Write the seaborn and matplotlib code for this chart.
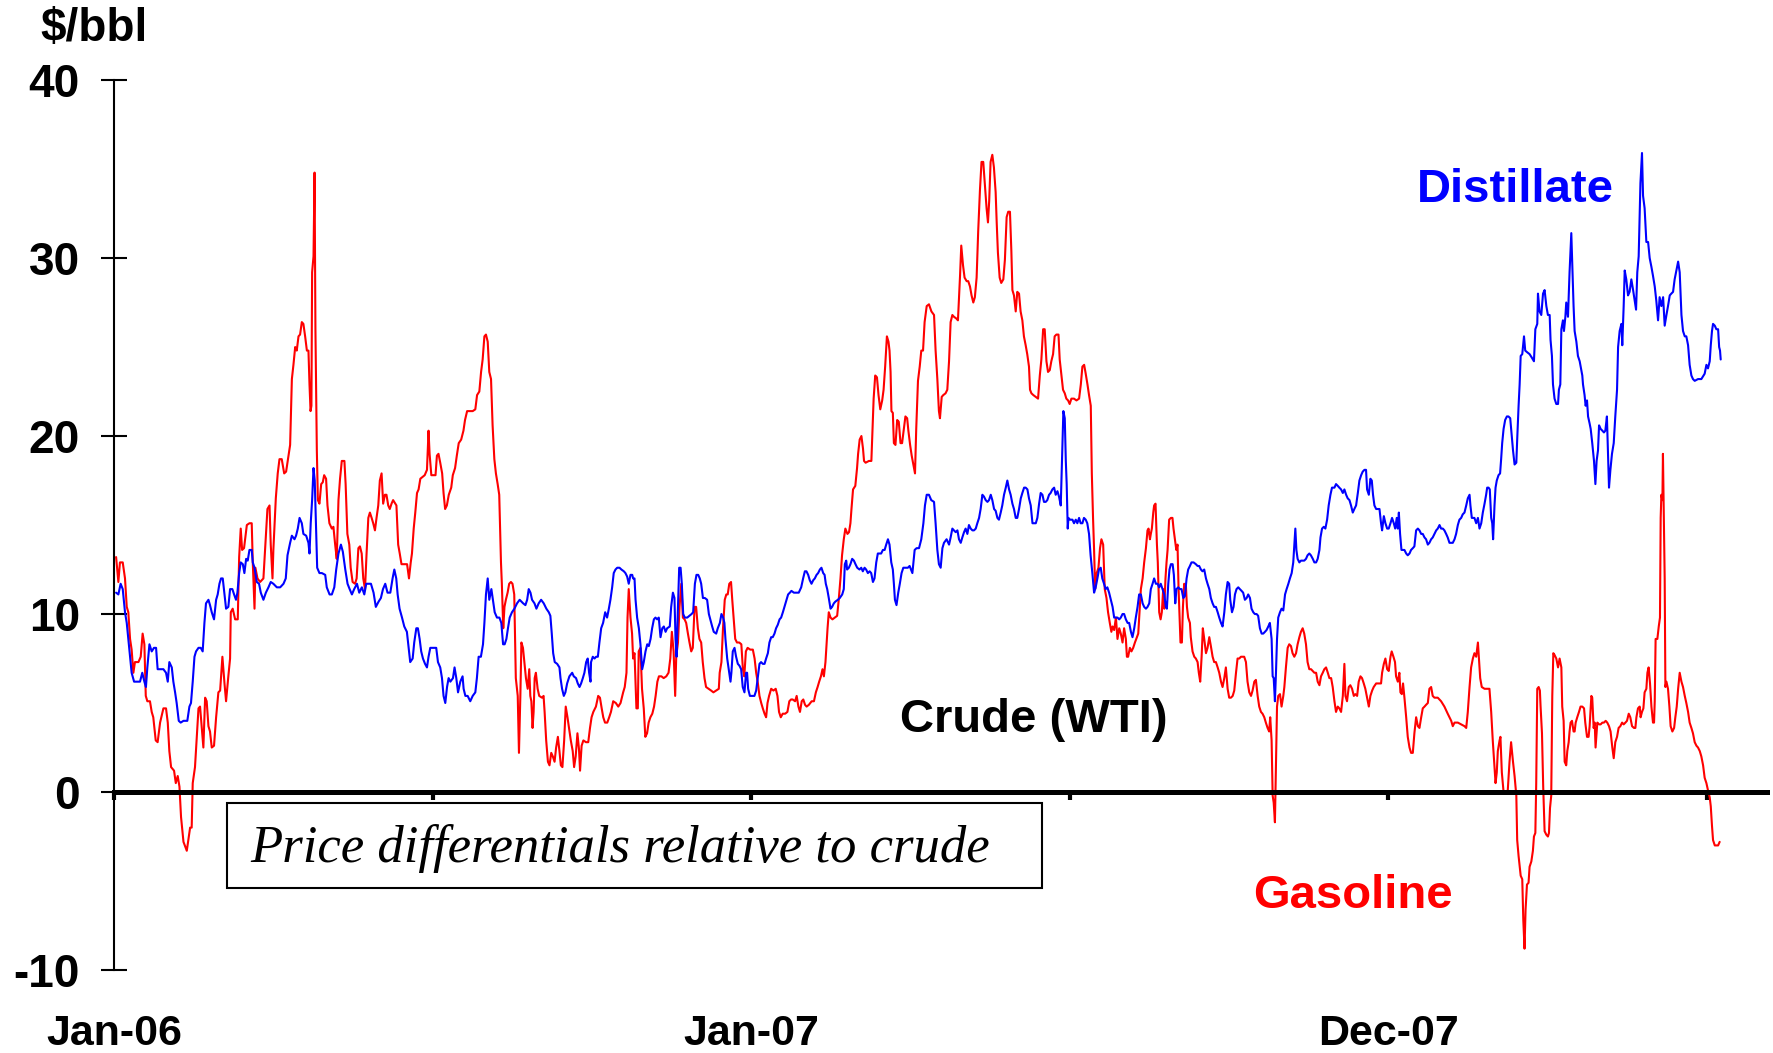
import matplotlib
matplotlib.use("Agg")
import matplotlib.pyplot as plt
import pandas as pd
import seaborn as sns
from matplotlib.patches import Rectangle

# spread over WTI crude, $/bbl; x = days since 1 Jan 2006
GASOLINE = [
    (1.2, 13.2), (2.5, 11.8), (3.4, 12.9), (5.0, 12.9), (6.3, 12.0), (7.3, 10.4), (8.2, 10.1), (9.2, 8.6),
    (10.1, 8.0), (11.1, 6.7), (12.0, 7.3), (14.0, 7.3), (15.3, 7.6), (16.4, 8.9), (17.4, 8.3), (18.2, 5.4),
    (19.1, 5.1), (20.6, 5.1), (21.6, 4.5), (22.5, 4.2), (23.9, 2.9), (25.0, 2.8), (26.4, 3.9), (28.3, 4.7),
    (29.8, 4.7), (30.8, 3.9), (31.7, 2.3), (32.7, 1.4), (34.4, 1.2), (35.4, 0.5), (36.5, 0.9), (37.5, 0.3),
    (38.4, -1.4), (39.8, -2.8), (41.7, -3.3), (43.6, -2.0), (44.5, -2.0), (45.1, 0.5), (46.4, 1.4), (47.4, 3.1),
    (48.4, 4.7), (49.3, 4.8), (50.3, 3.6), (51.2, 2.5), (52.2, 5.3), (53.1, 5.1), (54.1, 3.7), (55.0, 3.4),
    (56.0, 2.5), (57.3, 2.6), (58.5, 4.2), (59.8, 5.6), (60.8, 5.7), (62.1, 7.6), (63.3, 6.1), (64.2, 5.1),
    (65.5, 6.5), (66.5, 7.5), (66.9, 10.1), (68.0, 10.3), (69.4, 9.7), (70.9, 9.7), (71.7, 13.2), (72.6, 14.8),
    (73.4, 13.6), (74.5, 13.7), (76.1, 15.0), (77.6, 15.1), (78.9, 15.1), (79.5, 12.9), (80.5, 10.3), (81.0, 12.6),
    (82.2, 12.0), (83.7, 11.8), (85.6, 12.0), (86.8, 14.0), (87.9, 15.9), (89.1, 16.1), (89.8, 13.9), (90.8, 12.0),
    (91.3, 13.6), (92.7, 16.5), (93.8, 17.9), (94.8, 18.7), (96.1, 18.7), (97.5, 17.9), (98.6, 18.0), (100.0, 18.9),
    (100.9, 19.5), (101.9, 23.2), (102.8, 24.0), (103.8, 25.0), (104.7, 24.8), (105.7, 25.6), (106.6, 25.7),
    (107.6, 26.4), (108.5, 26.3), (109.5, 25.6), (110.5, 24.8), (111.4, 24.8), (112.0, 22.9), (112.6, 21.4),
    (113.1, 21.7), (113.5, 29.2), (114.3, 30.1), (114.9, 34.8), (115.4, 26.0), (116.2, 19.2), (116.8, 16.4),
    (117.7, 16.2), (118.7, 17.3), (119.6, 17.4), (120.4, 17.8), (121.5, 17.6), (122.3, 16.1), (123.4, 15.1),
    (124.8, 14.8), (125.7, 14.9), (126.7, 13.9), (127.6, 13.1), (128.6, 16.4), (129.5, 17.6), (130.5, 18.6),
    (132.0, 18.6), (132.7, 17.3), (133.7, 14.5), (134.8, 13.9), (135.6, 12.6), (136.7, 11.8), (138.1, 11.7),
    (139.0, 12.0), (140.0, 13.7), (140.9, 13.8), (141.9, 13.4), (142.8, 12.0), (143.8, 11.4), (144.7, 13.4),
    (145.7, 15.4), (146.6, 15.7), (147.6, 15.4), (148.5, 15.1), (149.5, 14.7), (150.4, 15.4), (151.4, 16.1),
    (152.3, 17.5), (153.3, 17.9), (154.2, 16.2), (155.2, 16.7), (156.1, 16.7), (157.1, 16.1), (158.0, 15.9),
    (159.0, 16.2), (159.9, 16.4), (161.8, 16.1), (162.8, 13.9), (163.7, 13.4), (164.7, 12.8), (166.6, 12.8),
    (167.9, 12.8), (169.0, 12.0), (170.0, 12.9), (170.7, 13.4), (171.7, 14.8), (172.6, 15.7), (173.6, 16.8),
    (174.5, 17.0), (175.5, 17.6), (178.0, 17.8), (179.3, 18.1), (180.2, 20.3), (180.8, 19.0), (181.8, 17.8),
    (183.1, 17.8), (184.2, 17.8), (185.0, 18.9), (185.9, 19.0), (186.9, 18.5), (188.0, 17.9), (188.8, 16.8),
    (189.7, 15.9), (190.7, 16.1), (191.8, 16.7), (193.2, 17.1), (194.1, 17.8), (195.4, 18.2), (196.4, 18.9),
    (197.5, 19.6), (198.9, 19.8), (200.2, 20.3), (201.1, 20.9), (202.3, 21.4), (203.6, 21.4), (205.5, 21.4),
    (207.0, 21.5), (208.0, 22.3), (209.3, 22.5), (210.3, 23.6), (211.2, 24.3), (212.2, 25.6), (213.1, 25.7),
    (214.1, 25.3), (215.0, 23.6), (216.0, 23.2), (216.9, 20.6), (217.9, 18.7), (218.8, 17.9), (219.8, 17.3),
    (220.7, 16.7), (221.7, 12.9), (222.2, 11.7), (223.0, 9.2), (223.7, 10.4), (224.5, 10.8), (225.5, 11.2),
    (226.4, 11.7), (227.4, 11.8), (228.3, 11.7), (229.3, 11.1), (230.2, 6.4), (231.3, 5.4), (232.0, 2.2),
    (232.8, 5.4), (233.4, 8.4), (234.3, 8.1), (235.1, 7.3), (236.0, 6.4), (237.0, 5.8), (237.9, 6.9), (238.5, 5.4),
    (239.1, 5.1), (239.8, 3.6), (240.4, 4.5), (241.0, 6.4), (241.7, 6.7), (242.7, 5.8), (243.6, 5.4), (245.2, 5.3),
    (246.1, 5.4), (246.7, 4.5), (247.6, 2.9), (248.6, 1.7), (249.5, 1.5), (250.5, 2.2), (251.4, 2.0), (252.4, 1.7),
    (253.3, 2.5), (254.3, 3.1), (255.2, 2.3), (256.0, 1.5), (256.9, 1.4), (257.9, 2.9), (258.8, 4.8), (259.8, 4.2),
    (260.7, 3.6), (261.7, 2.9), (262.8, 2.3), (263.6, 1.4), (264.5, 2.0), (265.5, 3.3), (266.4, 2.4), (267.0, 1.2),
    (267.9, 2.6), (268.9, 2.9), (270.4, 2.8), (271.7, 2.8), (272.7, 3.6), (273.6, 4.2), (274.6, 4.5), (276.1, 4.8),
    (277.4, 5.4), (278.4, 5.3), (279.4, 4.7), (280.3, 4.2), (281.3, 3.9), (282.6, 3.9), (283.7, 4.2), (284.7, 4.5),
    (286.0, 5.1), (287.5, 5.0), (288.9, 4.8), (290.2, 5.0), (291.7, 5.6), (292.6, 5.9), (293.6, 6.7), (294.2, 9.8),
    (294.9, 11.4), (295.9, 9.8), (296.8, 8.9), (297.4, 7.5), (298.2, 7.8), (298.7, 6.4), (299.3, 4.7), (300.1, 4.7),
    (300.6, 7.9), (301.6, 8.1), (302.5, 5.8), (303.5, 4.7), (304.4, 3.1), (305.4, 3.3), (306.3, 3.9), (307.3, 4.2),
    (308.4, 4.4), (309.4, 4.8), (310.3, 5.4), (311.3, 6.2), (312.2, 6.5), (313.6, 6.5), (314.9, 6.4), (316.4, 6.5),
    (317.7, 6.7), (318.7, 7.5), (319.6, 9.0), (320.6, 7.9), (321.5, 5.4), (322.1, 7.6), (323.1, 8.4), (324.0, 10.4),
    (325.0, 11.7), (325.9, 9.8), (326.9, 9.7), (327.8, 9.5), (328.8, 8.9), (329.7, 8.4), (330.7, 7.9), (331.6, 8.1),
    (332.6, 10.4), (333.5, 10.4), (334.5, 9.2), (335.4, 8.6), (336.4, 8.4), (337.3, 7.3), (338.3, 6.4), (339.2, 5.9),
    (340.7, 5.8), (342.1, 5.7), (343.4, 5.6), (344.9, 5.7), (346.5, 5.8), (347.0, 6.7), (348.0, 7.3), (348.9, 9.2),
    (349.9, 10.8), (350.8, 11.1), (351.6, 11.1), (352.5, 11.7), (353.5, 11.8), (354.2, 10.8), (355.0, 9.8),
    (355.9, 8.6), (356.9, 8.4), (358.2, 8.4), (359.4, 8.3), (360.3, 6.9), (361.1, 6.5), (362.0, 7.9), (363.0, 8.1),
    (364.5, 8.0), (366.0, 8.0), (367.0, 7.5), (367.9, 6.7), (368.9, 6.1), (369.8, 5.4), (370.8, 5.0), (371.7, 4.7),
    (372.7, 4.4), (373.6, 4.2), (374.4, 5.0), (375.3, 5.4), (376.5, 5.8), (377.8, 5.7), (379.1, 5.8), (380.1, 5.4),
    (381.0, 4.5), (382.0, 4.2), (383.1, 4.4), (384.5, 4.4), (385.8, 4.5), (386.9, 5.1), (387.9, 5.2), (388.8, 5.2),
    (390.2, 5.1), (391.1, 5.4), (392.1, 4.8), (393.0, 4.5), (394.0, 5.1), (394.9, 5.2), (395.9, 4.9), (396.8, 4.8),
    (398.1, 4.9), (399.7, 5.1), (401.0, 5.1), (402.1, 5.6), (403.1, 5.9), (404.0, 6.2), (405.0, 6.5), (405.9, 6.9),
    (406.7, 6.5), (407.6, 7.3), (408.2, 8.3), (408.8, 9.2), (409.5, 10.1), (410.5, 9.8), (411.6, 9.7), (412.9, 9.8),
    (414.3, 9.9), (415.2, 10.8), (416.2, 12.0), (417.1, 13.3), (418.1, 14.2), (419.0, 14.8), (420.2, 14.5),
    (421.1, 14.6), (421.9, 15.1), (422.5, 15.9), (423.4, 17.0), (424.7, 17.2), (425.7, 18.2), (426.3, 19.0),
    (427.2, 19.8), (428.2, 20.0), (429.1, 19.3), (429.7, 18.6), (430.6, 18.5), (432.5, 18.6), (433.9, 18.6),
    (434.4, 20.0), (435.2, 22.1), (436.1, 23.4), (437.1, 23.3), (438.0, 22.3), (439.0, 21.5), (440.1, 22.0),
    (440.9, 22.6), (441.8, 23.9), (442.8, 25.6), (443.7, 25.3), (444.3, 24.8), (444.9, 23.6), (445.4, 21.4),
    (446.2, 21.3), (446.8, 19.6), (447.7, 19.5), (448.7, 20.9), (449.6, 20.8), (450.6, 19.6), (451.5, 19.6),
    (452.5, 20.4), (453.4, 21.1), (454.4, 21.0), (455.1, 20.3), (456.1, 19.5), (457.0, 18.9), (458.9, 17.9),
    (459.6, 20.4), (460.6, 23.1), (461.6, 23.9), (462.5, 24.8), (463.5, 24.8), (464.4, 26.4), (465.6, 27.3),
    (466.9, 27.4), (468.3, 27.0), (469.8, 26.8), (470.7, 24.8), (471.7, 23.2), (472.6, 21.4), (473.2, 21.0),
    (474.2, 22.2), (475.1, 22.3), (476.4, 22.4), (477.4, 22.6), (478.4, 24.2), (479.3, 26.4), (480.3, 26.8),
    (481.2, 26.7), (482.6, 26.6), (483.5, 26.5), (484.7, 29.0), (485.4, 30.7), (486.4, 29.6), (487.3, 28.9),
    (488.5, 28.7), (489.4, 28.7), (490.4, 28.4), (491.3, 27.9), (492.3, 27.5), (493.2, 27.8), (494.2, 28.9),
    (495.1, 31.5), (496.1, 33.8), (497.0, 35.4), (498.0, 35.4), (498.8, 34.3), (499.3, 33.7), (499.9, 32.8),
    (500.7, 32.0), (501.4, 33.2), (502.2, 35.4), (503.2, 35.8), (504.1, 35.1), (505.1, 33.7), (505.7, 32.0),
    (506.4, 30.3), (507.4, 28.9), (508.3, 28.6), (509.5, 28.8), (510.4, 29.9), (511.4, 32.3), (512.3, 32.6),
    (513.3, 32.6), (514.1, 30.4), (514.7, 28.2), (515.6, 27.9), (516.6, 27.0), (517.5, 28.1), (518.5, 28.0),
    (519.4, 27.0), (520.4, 26.5), (521.3, 25.6), (522.3, 25.1), (523.2, 24.6), (524.2, 23.9), (524.8, 22.6),
    (525.6, 22.4), (526.7, 22.3), (528.1, 22.2), (529.4, 22.1), (530.4, 23.4), (531.3, 24.3), (532.3, 26.0),
    (533.2, 26.0), (534.2, 24.2), (535.1, 23.6), (536.1, 23.7), (537.0, 24.2), (538.0, 24.6), (538.9, 25.6),
    (539.9, 25.7), (541.1, 25.7), (541.8, 24.3), (542.8, 23.4), (543.7, 22.6), (544.7, 22.4), (545.6, 22.1),
    (546.6, 22.0), (547.5, 21.8), (548.5, 22.1), (550.0, 22.1), (551.4, 22.0), (552.9, 22.1), (553.9, 22.9),
    (554.8, 23.9), (555.8, 24.0), (556.7, 23.5), (557.7, 22.9), (558.6, 22.3), (559.6, 21.7), (560.2, 17.9),
    (560.9, 15.4), (561.5, 13.6), (562.1, 11.4), (563.0, 12.3), (564.0, 12.6), (564.9, 13.7), (565.7, 14.2),
    (566.7, 13.9), (567.6, 11.4), (568.6, 10.9), (569.5, 10.1), (570.5, 9.5), (571.4, 9.0), (572.1, 9.3),
    (573.0, 9.1), (574.0, 9.8), (574.9, 8.6), (575.9, 9.2), (576.8, 8.9), (577.8, 8.4), (578.7, 9.2), (579.7, 8.6),
    (580.3, 7.6), (581.0, 7.6), (582.0, 8.1), (582.9, 7.9), (583.9, 8.1), (584.9, 8.4), (586.0, 8.7), (586.8, 8.9),
    (587.5, 10.1), (588.3, 11.4), (589.3, 12.0), (590.2, 12.9), (591.2, 13.7), (592.1, 14.7), (592.7, 14.8),
    (593.5, 14.2), (594.0, 14.5), (594.6, 14.8), (595.4, 15.7), (595.9, 16.1), (596.7, 16.2), (597.5, 13.9),
    (598.0, 12.9), (598.8, 10.1), (599.6, 9.7), (600.3, 10.1), (601.1, 11.4), (601.7, 10.3), (602.4, 12.0),
    (603.0, 12.9), (603.6, 13.6), (604.5, 15.3), (605.5, 15.4), (606.4, 15.4), (607.0, 14.8), (607.8, 14.2),
    (608.6, 13.6), (609.3, 13.9), (609.9, 11.4), (610.5, 9.8), (611.0, 8.4), (611.8, 8.4), (612.4, 10.4),
    (613.1, 11.7), (614.1, 11.6), (614.7, 10.4), (615.4, 9.8), (616.4, 9.5), (616.9, 8.7), (617.9, 7.9),
    (618.9, 7.6), (619.8, 7.5), (620.8, 7.3), (621.5, 6.7), (622.3, 6.2), (623.1, 7.6), (623.8, 9.2), (624.6, 8.6),
    (625.6, 7.8), (626.5, 8.1), (627.5, 8.7), (628.4, 8.2), (629.4, 7.6), (630.3, 7.3), (631.3, 7.3), (632.3, 7.0),
    (633.2, 6.7), (634.2, 6.2), (635.1, 5.9), (636.1, 6.4), (637.0, 7.0), (638.0, 5.8), (638.9, 5.3), (639.9, 5.3),
    (640.9, 5.4), (641.8, 5.7), (642.8, 6.7), (643.7, 7.5), (644.7, 7.5), (645.6, 7.6), (646.6, 7.6), (647.5, 7.6),
    (648.5, 7.3), (649.4, 6.2), (650.4, 5.6), (651.4, 5.4), (652.3, 5.7), (653.3, 6.2), (654.2, 6.3), (655.2, 5.4),
    (656.1, 4.8), (657.1, 4.5), (658.0, 4.4), (659.0, 4.2), (659.9, 3.9), (660.9, 3.6), (661.8, 3.4), (662.4, 4.2),
    (663.2, 2.9), (663.8, -0.2), (664.4, -0.6), (665.1, -1.7), (665.7, 1.4), (666.3, 4.8), (667.0, 5.4),
    (668.0, 5.5), (668.9, 4.8), (669.9, 5.4), (670.5, 5.9), (671.4, 7.0), (672.4, 8.1), (673.3, 8.3), (674.3, 8.2),
    (675.2, 7.8), (676.2, 7.6), (677.2, 7.8), (678.1, 8.3), (679.1, 8.7), (680.0, 9.0), (681.0, 9.2), (681.9, 8.9),
    (682.9, 8.3), (683.8, 7.3), (684.8, 6.9), (685.8, 6.9), (687.7, 6.7), (688.7, 6.7), (689.6, 6.2), (690.6, 6.0),
    (691.5, 6.5), (692.5, 6.7), (693.4, 6.9), (694.4, 7.0), (695.4, 6.7), (696.3, 6.4), (697.3, 6.4), (698.2, 5.9),
    (699.2, 5.1), (700.1, 4.5), (701.1, 4.8), (702.0, 4.7), (703.0, 4.5), (704.0, 5.4), (704.9, 7.2), (705.5, 5.4),
    (706.4, 5.1), (707.4, 5.9), (708.3, 6.0), (709.3, 5.8), (710.3, 5.4), (711.2, 5.5), (712.2, 5.4), (713.1, 6.2),
    (714.1, 6.5), (715.0, 6.4), (716.0, 6.1), (716.9, 5.8), (717.9, 5.3), (718.9, 4.8), (719.8, 5.4), (720.8, 5.7),
    (721.7, 5.9), (723.1, 6.1), (724.6, 6.1), (725.9, 6.1), (726.5, 6.7), (727.5, 7.2), (728.4, 7.5), (729.4, 6.9),
    (730.3, 6.8), (731.3, 7.6), (732.0, 7.9), (733.0, 7.6), (733.9, 7.3), (734.5, 6.5), (735.5, 6.2), (736.4, 6.7),
    (737.0, 5.6), (737.8, 5.5), (738.5, 6.1), (739.3, 5.3), (740.3, 4.2), (741.2, 3.1), (742.2, 2.5), (743.1, 2.2),
    (744.1, 2.2), (745.0, 3.3), (746.0, 4.2), (747.0, 3.7), (747.9, 3.6), (748.9, 4.2), (749.8, 4.7), (750.8, 4.8),
    (751.7, 4.9), (752.7, 5.0), (753.6, 5.8), (754.6, 5.9), (755.5, 5.4), (756.5, 5.3), (758.4, 5.3), (760.3, 5.1),
    (762.2, 4.8), (764.1, 4.4), (766.1, 4.0), (767.0, 3.7), (768.0, 3.9), (769.9, 3.9), (771.8, 3.8), (773.7, 3.7),
    (774.7, 3.6), (775.6, 4.5), (776.6, 5.9), (777.5, 7.0), (778.5, 7.5), (779.4, 7.8), (780.4, 7.6), (781.4, 8.4),
    (781.9, 7.6), (782.7, 6.4), (783.6, 5.9), (785.2, 5.8), (786.7, 5.8), (788.0, 5.8), (789.0, 4.5), (789.9, 2.9),
    (790.9, 1.4), (791.5, 0.5), (792.2, 1.1), (792.8, 2.3), (793.8, 2.9), (794.3, 3.1), (795.1, 1.1), (796.1, 0.0),
    (797.6, 0.0), (798.5, 0.1), (799.5, 1.7), (800.4, 2.8), (801.5, 1.7), (802.4, 0.9), (803.4, -0.2),
    (803.9, -2.7), (804.7, -3.6), (805.9, -4.7), (806.8, -4.9), (807.4, -7.2), (808.1, -8.8), (808.7, -6.6),
    (809.5, -5.2), (810.4, -5.1), (811.0, -4.2), (812.0, -3.9), (812.9, -3.3), (813.5, -2.5), (814.3, -2.3),
    (814.8, 0.5), (815.4, 5.8), (816.2, 5.9), (816.9, 5.7), (817.3, 4.8), (818.1, 3.3), (818.8, 0.3), (819.6, -2.2),
    (820.6, -2.4), (821.5, -2.5), (822.1, -2.3), (822.7, -0.9), (823.4, -0.2), (824.0, 5.4), (824.6, 7.8),
    (825.3, 7.7), (826.3, 7.5), (827.3, 7.0), (828.2, 7.5), (829.2, 7.0), (829.7, 4.8), (830.5, 4.0), (831.1, 1.7),
    (832.0, 1.5), (832.6, 2.3), (833.4, 2.8), (833.9, 3.4), (834.5, 3.9), (835.3, 4.0), (836.2, 3.4), (836.8, 3.4),
    (837.4, 3.9), (838.3, 4.2), (839.3, 4.5), (840.2, 4.8), (841.2, 4.8), (842.2, 4.7), (842.9, 3.9), (843.9, 3.1),
    (844.8, 3.1), (845.4, 3.7), (846.4, 5.4), (846.9, 5.3), (847.7, 3.6), (848.3, 3.9), (848.8, 2.5), (849.8, 3.9),
    (850.8, 3.8), (851.7, 3.8), (852.7, 3.9), (853.6, 3.9), (854.6, 4.0), (855.5, 3.9), (856.5, 3.7), (857.4, 3.4),
    (858.4, 2.5), (859.2, 1.9), (860.1, 2.8), (861.1, 3.1), (862.0, 3.6), (863.0, 3.7), (864.0, 3.9), (864.9, 3.8),
    (865.9, 3.9), (866.8, 4.0), (867.8, 4.4), (868.7, 4.2), (869.7, 3.7), (870.8, 3.6), (871.6, 3.6), (872.2, 4.2),
    (873.1, 4.7), (874.1, 4.8), (874.6, 4.2), (875.4, 4.5), (876.2, 4.7), (876.9, 5.6), (877.9, 5.8), (878.5, 6.7),
    (879.2, 7.0), (880.0, 6.1), (880.8, 4.8), (881.7, 3.9), (882.3, 3.9), (882.7, 5.1), (883.2, 8.6), (884.2, 8.6),
    (885.0, 9.3), (885.7, 9.8), (886.1, 15.4), (886.5, 16.7), (887.1, 16.4), (887.4, 19.0), (888.0, 14.8),
    (888.4, 12.0), (888.8, 5.9), (889.4, 6.2), (890.3, 5.8), (891.1, 4.8), (891.8, 3.7), (892.8, 3.4), (893.8, 3.6),
    (894.5, 4.2), (895.3, 4.8), (896.1, 5.8), (897.0, 6.7), (898.0, 6.2), (898.9, 5.9), (899.9, 5.4), (900.8, 5.0),
    (901.8, 4.5), (902.7, 3.9), (903.7, 3.6), (904.6, 3.3), (905.6, 2.8), (906.6, 2.6), (907.5, 2.5), (908.5, 2.3),
    (909.4, 2.0), (910.4, 1.5), (911.3, 0.8), (912.3, 0.5), (913.2, 0.1), (914.2, -0.3), (914.8, -0.8),
    (915.5, -1.9), (916.1, -2.7), (917.1, -3.0), (918.0, -3.0), (919.0, -3.0), (919.9, -2.8),
]

DISTILLATE = [
    (1.2, 11.2), (2.5, 11.1), (3.8, 11.7), (5.0, 11.4), (6.3, 10.1), (7.3, 9.5), (8.2, 8.6), (9.2, 7.6),
    (10.1, 6.7), (11.5, 6.2), (13.0, 6.2), (14.9, 6.2), (16.2, 6.7), (17.4, 6.2), (18.3, 5.9), (19.1, 7.0),
    (20.3, 8.3), (21.6, 7.9), (22.9, 8.1), (24.1, 8.1), (25.0, 6.9), (26.4, 6.9), (28.3, 6.9), (29.8, 6.7),
    (30.8, 6.2), (31.7, 7.3), (33.1, 7.0), (34.0, 6.2), (35.0, 5.6), (35.9, 5.0), (37.1, 4.0), (38.2, 3.9),
    (39.8, 4.0), (42.0, 4.0), (43.2, 4.8), (44.1, 5.0), (45.1, 6.2), (46.1, 7.6), (47.0, 7.9), (48.4, 8.1),
    (49.7, 8.1), (50.8, 7.9), (51.8, 9.5), (52.7, 10.6), (54.1, 10.8), (55.0, 10.5), (56.0, 10.1), (57.3, 9.7),
    (58.5, 10.8), (59.4, 11.1), (60.4, 11.7), (61.3, 12.0), (62.3, 12.0), (63.3, 11.1), (64.2, 10.3), (65.5, 10.4),
    (66.5, 11.4), (67.8, 11.4), (68.8, 11.1), (69.9, 10.8), (70.7, 11.2), (71.7, 12.3), (72.6, 12.9), (73.8, 12.8),
    (74.7, 12.3), (75.7, 13.1), (76.6, 13.0), (77.6, 13.6), (78.9, 13.6), (79.5, 12.9), (80.5, 12.6), (81.8, 11.8),
    (83.1, 11.7), (84.1, 11.2), (85.6, 10.8), (87.0, 11.2), (88.5, 11.5), (89.8, 11.8), (91.3, 11.7), (93.3, 11.5),
    (95.2, 11.5), (97.1, 11.7), (98.4, 12.0), (99.4, 13.3), (100.9, 14.0), (101.9, 14.4), (103.4, 14.2),
    (104.3, 14.4), (105.3, 14.8), (106.3, 15.4), (107.6, 15.1), (108.5, 14.5), (110.1, 14.4), (111.4, 14.0),
    (112.0, 13.4), (112.7, 15.1), (113.5, 16.4), (114.3, 18.2), (115.0, 17.5), (115.8, 14.8), (116.4, 12.6),
    (117.7, 12.3), (119.1, 12.3), (121.0, 12.2), (121.9, 11.5), (123.5, 11.1), (124.8, 11.1), (126.2, 11.5),
    (127.3, 12.5), (128.6, 13.4), (130.0, 13.9), (131.1, 13.5), (132.5, 12.5), (133.8, 11.7), (135.0, 11.4),
    (136.3, 11.1), (137.6, 11.4), (139.2, 11.7), (140.5, 11.2), (142.0, 11.5), (143.4, 11.1), (144.5, 11.7),
    (145.8, 11.7), (147.2, 11.7), (148.7, 11.2), (150.0, 10.4), (151.6, 10.7), (152.9, 10.9), (154.1, 11.4),
    (155.4, 11.7), (156.7, 11.2), (158.3, 11.2), (159.6, 12.0), (160.6, 12.5), (161.7, 12.0), (162.5, 11.1),
    (163.6, 10.3), (165.0, 9.8), (166.3, 9.3), (167.8, 9.0), (168.8, 8.1), (169.7, 7.3), (171.1, 7.5), (172.0, 8.4),
    (173.2, 9.2), (174.1, 9.2), (175.1, 8.6), (176.0, 7.9), (177.0, 7.5), (178.2, 7.2), (179.3, 7.0), (180.2, 7.6),
    (181.2, 8.1), (183.1, 8.1), (184.6, 8.1), (185.6, 7.3), (186.9, 7.0), (187.9, 6.4), (188.8, 5.4), (189.8, 5.0),
    (190.8, 5.9), (191.7, 6.4), (192.7, 6.2), (194.2, 6.4), (195.1, 7.0), (196.1, 6.4), (197.1, 5.6), (198.4, 6.2),
    (199.7, 6.5), (200.3, 5.8), (201.3, 5.4), (202.6, 5.4), (204.1, 5.1), (205.5, 5.4), (207.0, 5.6), (207.9, 6.4),
    (208.9, 7.6), (210.2, 7.6), (211.4, 8.3), (212.2, 9.5), (213.1, 11.1), (214.1, 12.0), (215.0, 10.8),
    (216.2, 11.4), (217.1, 10.8), (218.1, 10.1), (219.4, 9.8), (220.8, 9.8), (221.9, 9.5), (222.9, 8.3),
    (223.8, 8.3), (224.8, 8.6), (225.7, 9.2), (226.7, 9.8), (228.0, 10.1), (229.4, 10.3), (230.9, 10.6),
    (232.4, 10.8), (234.4, 10.6), (235.7, 10.5), (236.7, 10.8), (237.6, 11.4), (238.6, 11.2), (239.5, 10.8),
    (240.9, 10.6), (242.0, 10.3), (243.3, 10.6), (244.7, 10.8), (246.2, 10.6), (247.7, 10.3), (249.1, 10.1),
    (250.0, 9.9), (250.8, 8.9), (251.6, 7.8), (252.5, 7.3), (253.9, 7.2), (255.2, 7.0), (255.8, 6.4), (256.7, 5.8),
    (257.7, 5.4), (258.6, 5.6), (259.6, 6.1), (260.9, 6.5), (262.5, 6.7), (263.4, 6.5), (264.7, 6.4), (265.7, 6.1),
    (266.7, 5.9), (267.6, 6.1), (268.6, 6.4), (269.5, 6.7), (270.5, 7.3), (271.4, 7.5), (272.2, 6.7), (273.0, 6.2),
    (273.3, 7.3), (274.3, 7.6), (275.3, 7.5), (276.2, 7.6), (277.2, 7.6), (278.1, 8.4), (279.1, 9.2), (280.2, 9.5),
    (281.4, 10.1), (282.5, 9.8), (283.5, 10.3), (284.4, 10.8), (285.4, 11.5), (286.3, 12.3), (287.3, 12.5),
    (288.3, 12.6), (289.6, 12.6), (290.7, 12.5), (292.1, 12.4), (293.0, 12.3), (294.0, 12.1), (294.9, 11.7),
    (295.9, 12.2), (296.9, 12.2), (297.4, 12.0), (298.2, 12.0), (298.8, 10.8), (299.7, 9.8), (300.7, 9.2),
    (301.6, 8.3), (302.6, 6.9), (303.5, 7.3), (304.5, 7.9), (305.5, 8.3), (306.4, 8.2), (307.4, 8.6), (308.3, 9.2),
    (309.3, 9.7), (310.2, 9.8), (311.2, 9.7), (312.1, 9.8), (313.1, 8.7), (314.1, 9.2), (315.0, 9.3), (316.0, 9.0),
    (316.9, 9.2), (318.4, 9.3), (319.2, 10.4), (320.2, 11.2), (321.1, 10.9), (321.7, 8.6), (322.3, 7.6),
    (323.0, 10.1), (323.8, 12.6), (324.6, 12.6), (325.3, 11.7), (326.1, 10.0), (327.0, 9.8), (328.4, 9.8),
    (329.7, 9.9), (330.9, 10.0), (331.8, 10.1), (332.8, 11.7), (333.7, 12.2), (334.7, 12.2), (335.6, 12.0),
    (336.4, 11.7), (337.4, 10.9), (338.5, 10.9), (339.8, 10.8), (340.8, 10.0), (342.7, 9.3), (343.6, 9.0),
    (345.0, 8.9), (345.9, 9.2), (347.1, 9.5), (348.0, 10.0), (349.0, 9.8), (349.7, 9.5), (350.3, 8.6), (351.3, 7.5),
    (352.2, 6.9), (353.2, 6.2), (353.7, 6.7), (354.5, 7.9), (355.5, 8.1), (356.4, 7.6), (357.4, 7.2), (358.3, 7.1),
    (359.3, 6.9), (360.2, 5.9), (361.2, 5.6), (362.1, 6.7), (362.7, 6.7), (363.3, 5.8), (364.3, 5.4), (365.6, 5.4),
    (366.9, 5.4), (367.9, 5.7), (368.8, 6.4), (369.8, 7.2), (370.7, 7.3), (371.7, 7.2), (372.7, 7.2), (373.6, 7.5),
    (374.6, 7.8), (375.5, 8.4), (376.5, 8.7), (377.4, 8.7), (378.4, 8.9), (379.3, 9.2), (380.3, 9.4), (381.3, 9.7),
    (382.2, 9.8), (383.2, 10.1), (384.1, 10.4), (385.3, 10.8), (386.2, 11.1), (387.2, 11.2), (388.1, 11.3),
    (389.5, 11.2), (391.0, 11.2), (392.3, 11.2), (393.7, 11.5), (394.8, 12.0), (395.8, 12.4), (396.7, 12.4),
    (397.7, 12.2), (398.6, 11.9), (399.6, 11.7), (400.6, 11.9), (401.5, 12.0), (402.5, 12.2), (403.4, 12.3),
    (404.4, 12.5), (405.3, 12.6), (406.3, 12.3), (407.1, 12.2), (407.8, 11.7), (408.6, 11.4), (409.5, 10.9),
    (410.5, 10.3), (411.4, 10.4), (412.4, 10.6), (413.3, 10.7), (414.7, 10.8), (415.8, 10.9), (417.2, 11.1),
    (418.1, 11.4), (418.7, 12.8), (419.5, 13.0), (420.0, 12.5), (421.0, 12.6), (421.9, 12.8), (422.9, 13.1),
    (423.9, 13.0), (424.8, 12.8), (425.8, 12.6), (427.1, 12.5), (428.1, 12.6), (429.0, 12.4), (430.0, 12.6),
    (430.9, 12.5), (431.9, 12.3), (432.9, 12.4), (433.8, 12.3), (434.8, 11.8), (435.7, 12.0), (436.7, 12.9),
    (437.6, 13.4), (438.6, 13.4), (439.5, 13.4), (440.5, 13.6), (441.5, 13.6), (442.4, 13.9), (443.4, 14.2),
    (444.3, 13.9), (445.3, 12.9), (446.2, 12.5), (446.8, 11.7), (447.4, 10.8), (448.3, 10.5), (449.3, 11.2),
    (450.2, 11.7), (451.2, 12.3), (452.2, 12.6), (453.5, 12.6), (454.8, 12.6), (455.8, 12.7), (457.4, 12.3),
    (458.7, 13.6), (459.8, 13.7), (461.2, 13.7), (462.5, 14.2), (463.7, 15.1), (464.6, 16.1), (465.6, 16.7),
    (466.9, 16.7), (468.2, 16.4), (469.8, 16.3), (470.7, 15.1), (471.7, 13.6), (472.6, 12.8), (473.6, 12.6),
    (474.6, 13.7), (475.5, 14.0), (477.0, 14.2), (478.4, 13.9), (479.3, 14.3), (480.3, 14.8), (481.2, 14.7),
    (482.2, 14.6), (483.2, 14.7), (484.1, 14.2), (485.1, 14.0), (486.0, 14.3), (487.0, 14.6), (487.9, 14.8),
    (488.9, 14.5), (489.8, 15.0), (490.8, 14.8), (491.8, 14.7), (492.7, 14.7), (493.7, 14.8), (494.6, 15.1),
    (495.6, 15.4), (496.5, 15.9), (497.5, 16.7), (498.4, 16.6), (499.4, 16.4), (500.4, 16.3), (501.3, 16.4),
    (502.3, 16.7), (503.2, 16.4), (504.2, 15.9), (505.1, 15.8), (506.1, 15.4), (507.0, 15.3), (508.0, 15.7),
    (508.9, 16.1), (509.9, 16.7), (510.9, 17.1), (511.8, 17.5), (512.8, 17.0), (513.7, 16.7), (514.7, 16.2),
    (515.6, 15.9), (516.6, 15.4), (517.5, 15.4), (518.5, 15.9), (519.5, 16.5), (520.4, 16.8), (521.4, 17.1),
    (522.3, 17.1), (523.3, 17.0), (524.2, 16.5), (525.2, 16.1), (526.2, 15.1), (527.1, 15.1), (528.1, 15.1),
    (529.0, 15.4), (530.0, 16.2), (530.9, 16.8), (531.9, 16.7), (532.8, 16.3), (533.8, 16.3), (534.7, 16.4),
    (535.7, 16.7), (536.6, 16.8), (537.6, 17.0), (538.6, 17.1), (539.5, 16.7), (540.5, 16.9), (541.4, 16.6),
    (542.4, 16.1), (543.3, 19.2), (543.9, 21.4), (544.7, 21.0), (545.3, 18.6), (545.8, 17.3), (546.4, 14.8),
    (546.8, 15.4), (547.7, 15.3), (549.1, 15.3), (550.0, 15.1), (551.0, 15.3), (551.9, 15.1), (552.9, 15.4),
    (553.8, 15.1), (554.8, 15.1), (555.7, 15.4), (556.7, 15.3), (557.6, 15.1), (558.6, 14.5), (559.5, 13.3),
    (560.5, 12.3), (561.5, 11.2), (562.4, 11.5), (563.4, 12.0), (564.3, 12.5), (565.3, 12.6), (566.2, 12.0),
    (567.2, 11.7), (568.1, 11.4), (569.1, 11.5), (570.1, 11.2), (572.1, 10.4), (573.0, 9.8), (574.0, 9.8),
    (574.9, 9.8), (575.9, 9.7), (576.8, 9.8), (577.8, 10.0), (578.7, 10.0), (579.7, 9.7), (580.7, 9.5),
    (581.6, 9.5), (582.6, 9.0), (583.5, 8.7), (584.5, 9.2), (585.4, 9.8), (586.4, 10.4), (587.3, 11.1),
    (588.3, 11.1), (589.3, 10.6), (590.2, 10.4), (591.2, 10.3), (592.1, 10.4), (593.1, 10.6), (594.0, 11.4),
    (595.0, 11.7), (595.9, 12.0), (596.9, 11.7), (597.9, 11.7), (598.8, 11.5), (599.7, 11.7), (600.7, 11.4),
    (601.7, 11.1), (602.6, 10.4), (603.2, 10.3), (604.0, 11.7), (604.7, 12.5), (605.5, 12.8), (606.5, 12.8),
    (607.2, 12.2), (608.0, 10.6), (608.7, 11.4), (609.7, 11.5), (610.7, 11.4), (611.6, 11.4), (612.6, 10.9),
    (613.5, 11.0), (614.5, 12.0), (615.4, 12.5), (616.4, 12.7), (617.3, 12.9), (618.5, 12.9), (619.8, 12.8),
    (620.8, 12.7), (621.7, 12.7), (622.7, 12.5), (623.6, 12.4), (624.6, 12.5), (625.6, 12.0), (626.5, 11.7),
    (627.5, 11.4), (628.4, 10.9), (629.4, 10.6), (630.3, 10.4), (631.3, 10.4), (632.3, 10.1), (633.2, 9.8),
    (634.2, 9.5), (635.1, 9.3), (636.1, 10.1), (637.0, 11.1), (638.0, 11.8), (638.9, 11.7), (639.5, 10.8),
    (640.5, 10.1), (641.4, 10.4), (642.2, 11.1), (643.1, 11.4), (644.1, 11.5), (645.0, 11.4), (646.0, 11.3),
    (646.9, 11.2), (647.9, 10.8), (648.9, 10.9), (649.8, 11.1), (650.8, 10.9), (651.7, 10.3), (652.7, 10.1),
    (653.6, 10.0), (654.6, 10.0), (655.5, 9.9), (656.5, 9.2), (657.5, 8.9), (658.4, 8.9), (659.4, 9.0),
    (660.3, 9.1), (661.3, 9.3), (662.2, 9.5), (663.2, 8.6), (663.8, 6.5), (664.4, 6.4), (665.1, 5.1), (665.7, 6.7),
    (666.3, 8.6), (667.0, 9.8), (668.0, 10.1), (668.9, 10.3), (669.9, 10.2), (670.9, 11.1), (671.8, 11.4),
    (672.8, 11.7), (673.7, 12.0), (674.7, 12.3), (675.6, 12.9), (676.2, 13.9), (676.8, 14.8), (677.4, 13.6),
    (678.1, 13.1), (679.1, 12.9), (680.0, 13.0), (681.0, 13.0), (681.9, 13.0), (682.9, 13.1), (683.8, 13.3),
    (684.8, 13.4), (685.7, 13.3), (686.8, 13.1), (687.7, 12.9), (688.7, 12.9), (689.6, 13.1), (690.6, 13.6),
    (691.2, 14.3), (692.1, 14.8), (693.1, 14.9), (694.0, 14.8), (695.0, 15.3), (695.9, 16.1), (696.9, 16.7),
    (697.8, 17.1), (699.2, 17.1), (700.1, 17.3), (701.1, 17.2), (702.0, 17.1), (703.0, 17.0), (704.0, 16.8),
    (704.9, 17.0), (705.9, 16.7), (706.8, 16.5), (707.8, 16.4), (708.7, 16.1), (709.7, 15.7), (710.6, 15.9),
    (711.6, 16.1), (712.6, 16.8), (713.5, 17.5), (714.5, 17.8), (715.4, 18.0), (716.4, 18.1), (717.3, 18.1),
    (717.9, 17.0), (718.9, 16.7), (719.8, 17.6), (720.6, 17.5), (721.3, 16.7), (722.1, 16.1), (723.1, 15.9),
    (724.0, 15.9), (725.0, 15.9), (725.9, 15.1), (726.5, 14.7), (727.5, 15.5), (728.4, 15.1), (729.4, 14.8),
    (730.3, 14.8), (731.3, 15.1), (732.2, 15.4), (733.2, 15.1), (734.0, 14.8), (734.9, 15.4), (735.5, 14.8),
    (736.1, 15.7), (736.8, 14.5), (737.6, 13.6), (738.5, 13.6), (739.3, 13.6), (740.3, 13.4), (741.2, 13.3),
    (742.2, 13.4), (743.1, 13.6), (744.1, 13.7), (745.0, 13.8), (746.0, 14.7), (747.0, 14.8), (747.9, 14.7),
    (748.9, 14.5), (749.8, 14.5), (750.8, 14.3), (751.7, 14.2), (752.7, 13.9), (753.6, 14.0), (754.6, 14.2),
    (755.5, 14.3), (756.5, 14.5), (757.5, 14.7), (758.4, 14.8), (759.4, 15.0), (760.3, 14.8), (761.3, 14.8),
    (762.2, 14.7), (763.2, 14.5), (764.1, 14.3), (765.1, 14.0), (766.1, 14.0), (767.0, 14.0), (768.0, 14.2),
    (768.9, 14.5), (769.9, 15.0), (770.8, 15.3), (771.8, 15.4), (772.7, 15.6), (773.7, 15.7), (774.7, 16.1),
    (775.6, 16.5), (776.6, 16.7), (777.1, 16.1), (777.9, 15.4), (778.9, 15.4), (779.4, 15.4), (780.4, 15.1),
    (781.4, 15.4), (782.3, 14.8), (783.3, 15.1), (784.2, 15.7), (785.2, 16.2), (786.1, 16.7), (786.7, 17.1),
    (787.5, 17.1), (788.2, 17.0), (789.0, 15.4), (789.6, 15.1), (790.1, 14.2), (790.9, 16.1), (791.5, 17.1),
    (792.2, 17.5), (793.2, 17.8), (794.1, 17.9), (794.7, 18.7), (795.3, 19.6), (796.1, 20.4), (797.0, 20.9),
    (798.0, 21.1), (798.9, 21.1), (799.9, 21.0), (801.5, 19.2), (802.4, 18.4), (803.4, 18.5), (803.9, 19.8),
    (804.7, 21.7), (805.3, 22.9), (805.9, 24.5), (806.8, 24.6), (807.8, 25.6), (808.5, 24.8), (809.7, 24.7),
    (811.0, 24.6), (812.3, 24.4), (813.5, 24.2), (814.3, 26.0), (815.4, 26.3), (815.8, 28.0), (816.7, 27.0),
    (817.7, 26.8), (818.7, 28.0), (819.6, 28.2), (820.6, 27.3), (821.5, 26.8), (822.5, 26.8), (823.0, 25.4),
    (823.8, 24.5), (824.4, 22.9), (825.3, 22.1), (826.3, 21.8), (827.3, 21.8), (827.8, 22.6), (828.6, 22.9),
    (829.2, 26.0), (830.1, 26.5), (830.7, 25.9), (831.5, 26.7), (832.0, 27.5), (833.0, 26.7), (833.9, 29.2),
    (834.9, 31.4), (835.5, 29.5), (836.2, 27.3), (836.8, 25.9), (837.8, 25.3), (838.7, 24.5), (839.7, 24.2),
    (840.6, 23.7), (841.2, 23.4), (841.6, 22.9), (842.5, 22.3), (843.1, 21.7), (843.9, 22.0), (844.5, 21.1),
    (845.4, 20.7), (846.0, 20.4), (846.9, 19.6), (847.9, 18.6), (848.7, 17.3), (849.4, 18.6), (850.2, 19.2),
    (850.8, 20.6), (851.7, 20.4), (852.7, 20.3), (853.6, 20.2), (854.4, 20.3), (855.3, 21.1), (855.9, 19.0),
    (856.5, 17.1), (857.3, 18.1), (858.2, 19.0), (859.2, 19.6), (860.1, 21.1), (861.1, 22.6), (861.7, 25.0),
    (862.6, 25.9), (863.6, 26.3), (864.1, 25.1), (864.9, 27.3), (865.5, 29.3), (866.4, 28.8), (867.4, 27.9),
    (868.3, 28.1), (869.3, 28.8), (870.3, 28.2), (871.2, 27.6), (872.0, 27.1), (872.7, 29.2), (873.5, 30.1),
    (874.5, 34.2), (875.4, 35.9), (876.0, 33.5), (876.9, 32.8), (877.9, 30.9), (878.9, 30.9), (879.8, 30.0),
    (880.8, 29.5), (881.7, 29.0), (882.7, 28.4), (883.6, 27.6), (884.6, 26.5), (885.5, 27.8), (886.5, 27.3),
    (887.5, 27.8), (888.4, 26.2), (889.4, 26.8), (890.3, 27.3), (891.3, 27.9), (892.2, 28.0), (893.2, 28.1),
    (894.1, 28.8), (895.1, 29.3), (896.1, 29.8), (897.0, 29.2), (898.0, 26.8), (898.9, 25.9), (899.9, 25.6),
    (900.8, 25.6), (901.8, 25.1), (902.7, 24.0), (903.7, 23.4), (904.6, 23.2), (905.6, 23.1), (907.5, 23.2),
    (909.4, 23.2), (911.3, 23.5), (912.3, 24.0), (913.2, 23.8), (914.2, 24.2), (914.8, 25.1), (915.5, 25.9),
    (916.1, 26.3), (917.1, 26.2), (918.0, 26.0), (919.0, 26.0), (919.6, 25.0), (920.1, 24.8), (920.5, 24.3),
]

TICK_DAYS = [0, 182.5, 365, 547.5, 730, 912.5]
TICK_LABELS = ["Jan-06", "", "Jan-07", "", "Dec-07", ""]
Y_TICKS = [-10, 0, 10, 20, 30, 40]

sns.set_style("white")
plt.rcParams["font.family"] = ["Liberation Sans", "DejaVu Sans"]
plt.rcParams["text.color"] = "black"
plt.rcParams["xtick.color"] = "black"
plt.rcParams["ytick.color"] = "black"

fig = plt.figure(figsize=(17.73, 10.53), dpi=100)
ax = fig.add_axes([0.0643, 0.0788, 0.9323, 0.8452])

gas = pd.DataFrame(GASOLINE, columns=["day", "spread"])
dist = pd.DataFrame(DISTILLATE, columns=["day", "spread"])
sns.lineplot(data=gas, x="day", y="spread", ax=ax, color="#ff0000",
             linewidth=1.5, estimator=None, sort=False)
sns.lineplot(data=dist, x="day", y="spread", ax=ax, color="#0000ff",
             linewidth=1.5, estimator=None, sort=False)

ax.set_xlim(0, 947)
ax.set_ylim(-10, 40)
ax.set_xlabel("")
ax.set_ylabel("")

# axes: left spine full height, bottom spine used as the thick zero line
for side in ["top", "right"]:
    ax.spines[side].set_visible(False)
ax.spines["left"].set_color("black")
ax.spines["left"].set_linewidth(1.5)
ax.spines["bottom"].set_position(("data", 0))
ax.spines["bottom"].set_color("black")
ax.spines["bottom"].set_linewidth(3.6)

ax.set_yticks(Y_TICKS)
ax.set_yticklabels([str(v) for v in Y_TICKS], fontsize=33, fontweight="bold", color="black")
ax.tick_params(axis="y", left=True, direction="inout", length=19, width=1.5, pad=15,
               colors="black")

ax.set_xticks(TICK_DAYS)
ax.set_xticklabels(TICK_LABELS, fontsize=31, fontweight="bold", color="black")
ax.tick_params(axis="x", bottom=True, direction="out", length=6, width=3, pad=154,
               colors="black")

fig.text(40 / 1773, 1 - 29 / 1053, "$/bbl", fontsize=33, fontweight="bold",
         color="black", ha="left", va="center")

# series labels
ax.text(803, 33.8, "Distillate", color="#0000ff", fontsize=34, fontweight="bold",
        ha="center", va="center")
ax.text(527, 4.05, "Crude (WTI)", color="black", fontsize=34, fontweight="bold",
        ha="center", va="center")
ax.text(710, -5.85, "Gasoline", color="#ff0000", fontsize=34, fontweight="bold",
        ha="center", va="center")

# boxed note
ax.add_patch(Rectangle((64.8, -5.4), 467, 4.8, fill=False, edgecolor="black",
                       linewidth=1.5, zorder=3))
ax.text(290, -3.15, "Price differentials relative to crude", fontsize=38,
        family=["Liberation Serif", "DejaVu Serif"], style="italic", color="black",
        ha="center", va="center")

fig.savefig("out.png", dpi=100, facecolor="white")
